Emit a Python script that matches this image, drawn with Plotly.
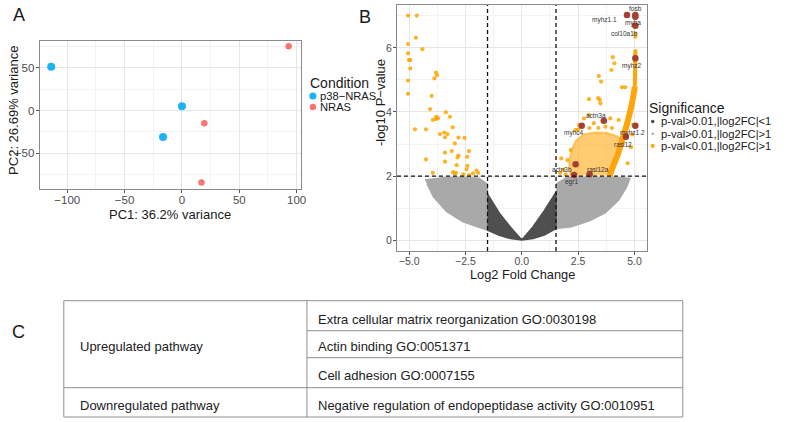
import plotly.graph_objects as go

W, H = 789, 422
def px(x): return x / W
def py(y): return 1 - y / H

FONT = "Liberation Sans, Arial, Helvetica, sans-serif"

# ---------------- Panel A : PCA ----------------
cond_names = ["p38\u2212NRAS", "NRAS"]
pc1_p38 = [-114, 0, -16.5]
pc2_p38 = [51, 5, -31]
pc1_nras = [19.5, 17, 93]
pc2_nras = [-15, -84, 75]
pca_xlabel = "PC1: 36.2% variance"
pca_ylabel = "PC2: 26.69% variance"

# ---------------- Panel B : volcano ----------------
fc_cut = 1.52
p_cut = 2
# dense cloud envelopes (log2FC, -log10 p)
dark_x = [-1.53, -1.0, -0.5, 0.0, 0.5, 1.0, 1.52, 1.52, 1.0, 0.5, 0.05, -0.05, -0.5, -1.0, -1.53]
dark_y = [0.31, 0.15, 0.05, 0.0, 0.05, 0.16, 0.36, 1.5, 0.92, 0.42, 0.04, 0.04, 0.4, 0.85, 1.45]
lwing_x = [-4.3, -3.5, -2.5, -1.9, -1.53, -1.53, -2.0, -2.6, -3.33, -3.92, -4.21]
lwing_y = [1.88, 1.95, 1.96, 1.93, 1.75, 0.31, 0.42, 0.57, 0.89, 1.35, 1.77]
rwing_x = [1.52, 2.0, 3.0, 4.0, 4.5, 4.8, 4.65, 4.3, 3.7, 3.0, 2.2, 1.52]
rwing_y = [1.75, 1.96, 1.96, 1.96, 1.95, 1.93, 1.65, 1.25, 0.85, 0.6, 0.42, 0.36]
up_dense_x = [2.15, 2.1, 2.2, 2.4, 2.75, 3.2, 3.75, 4.2, 4.5, 4.4, 4.15, 3.98, 3.85]
up_dense_y = [2.02, 2.4, 2.8, 3.1, 3.3, 3.36, 3.35, 3.25, 3.1, 2.9, 2.5, 2.25, 2.02]
band_x = [3.9, 4.05, 4.25, 4.47, 4.7, 4.9, 5.02]
band_y = [2.0, 2.3, 2.65, 3.15, 3.7, 4.3, 4.8]
band2_x = [5.02, 5.04, 5.04]
band2_y = [4.8, 5.3, 5.95]

down_x = [-5.05, -4.66, -4.70, -4.41, -5.05, -5.05, -5.01, -4.95, -4.95, -3.81, -3.76, -3.88, -5.05, -5.05,
          -4.0, -4.07, -3.37, -3.80, -3.76, -3.72, -3.83, -3.95, -3.19, -4.74, -4.25, -3.07, -3.63, -3.44,
          -3.30, -3.41, -2.81, -2.54, -2.97, -2.34, -3.41, -3.11, -2.81, -2.85, -2.42, -4.25, -3.41, -2.89,
          -2.41, -2.45, -3.95, -3.05, -2.98, -2.92, -2.01, -2.16, -1.94, -2.60, -2.34]
down_y = [7.01, 7.01, 6.32, 5.96, 6.12, 5.83, 5.62, 5.62, 5.36, 5.23, 5.15, 5.05, 4.98, 4.57,
          4.5, 4.09, 3.99, 3.85, 3.82, 3.80, 3.78, 3.75, 3.85, 3.46, 3.46, 3.52, 3.31, 3.36,
          3.31, 3.21, 3.20, 3.19, 3.02, 2.78, 2.73, 2.78, 2.64, 2.58, 2.6, 2.52, 2.45, 2.34,
          2.32, 2.21, 2.10, 2.12, 2.08, 2.10, 2.17, 2.08, 2.10, 2.05, 2.03]
up_x = [2.03, 2.17, 1.85, 1.95, 1.7, 1.75, 2.54, 2.39, 2.76, 2.98, 3.2, 3.71, 3.93, 4.3, 2.98, 3.39, 3.49,
        3.46, 4.45, 4.59, 3.42, 3.52, 3.98, 4.04, 4.11, 5.04, 5.04, 4.7, 4.85, 4.9, 4.95, 2.5, 3.0, 3.4, 4.0]
up_y = [2.5, 2.81, 2.2, 2.05, 2.1, 2.55, 3.59, 3.44, 3.80, 3.91, 3.65, 3.54, 3.80, 3.75, 4.40, 4.43, 4.27,
        4.38, 4.77, 4.77, 5.12, 4.95, 5.31, 5.71, 5.52, 6.35, 6.45, 2.4, 2.9, 3.3, 3.6, 3.45, 3.5, 3.5, 3.5]

genes = ["fosb", "myha", "myhz1.1", "col10a1b", "myhz2", "actn3a", "myhc4", "myhz1.2", "rasl12",
         "actn3b", "rasl12a", "egr1"]
gene_fc = [5.04, 5.04, 4.67, 5.04, 5.04, 3.64, 2.66, 5.04, 4.62, 2.39, 3.01, 2.32]
gene_p = [7.03, 6.97, 7.03, 6.69, 5.68, 3.73, 3.57, 3.57, 3.23, 2.37, 2.06, 2.03]
# label offsets in pixels (style)
label_shift = [(0, 6), (-2, -6), (-22, -5), (-11, -8), (-3, -8), (-8, 5), (-8, -7), (-3, -7),
               (-3, -8), (-14, -5), (8, 5), (-3, -7)]
sig_labels = ["p-val>0.01,|log2FC|<1", "p-val>0.01,|log2FC|>1", "p-val<0.01,|log2FC|>1"]
volc_xlabel = "Log2 Fold Change"
volc_ylabel = "-log10 P\u2212value"

# ---------------- Panel C : table ----------------
groups = ["Upregulated pathway", "Downregulated pathway"]
go_terms = ["Extra cellular matrix reorganization GO:0030198",
            "Actin binding GO:0051371",
            "Cell adhesion GO:0007155",
            "Negative regulation of endopeptidase activity GO:0010951"]

BLUE = "#1cb2f5"
RED = "#f8766d"
ORANGE = "rgba(255,165,0,0.85)"
ORANGE_FILL = "rgba(255,172,30,0.62)"
LGRAY = "#a9a9a9"
DGRAY = "#4f4f4f"
HIGHLIGHT = "#a3402e"

fig = go.Figure()

# Panel A traces
fig.add_trace(go.Scatter(x=pc1_p38, y=pc2_p38, mode="markers", xaxis="x", yaxis="y",
                         marker=dict(color=BLUE, size=8), showlegend=False))
fig.add_trace(go.Scatter(x=pc1_nras, y=pc2_nras, mode="markers", xaxis="x", yaxis="y",
                         marker=dict(color=RED, size=6.5), showlegend=False))

# Panel B traces
for xs, ys, col in [(lwing_x, lwing_y, LGRAY), (rwing_x, rwing_y, LGRAY), (dark_x, dark_y, DGRAY)]:
    fig.add_trace(go.Scatter(x=xs, y=ys, mode="lines", fill="toself", fillcolor=col,
                             line=dict(color=col, width=1.5), xaxis="x2", yaxis="y2",
                             showlegend=False, hoverinfo="skip"))
fig.add_trace(go.Scatter(x=up_dense_x, y=up_dense_y, mode="lines", fill="toself", fillcolor=ORANGE_FILL,
                         line=dict(color=ORANGE_FILL, width=2), xaxis="x2", yaxis="y2",
                         showlegend=False, hoverinfo="skip"))
fig.add_trace(go.Scatter(x=down_x, y=down_y, mode="markers", xaxis="x2", yaxis="y2",
                         marker=dict(color=ORANGE, size=4.2), showlegend=False))
fig.add_trace(go.Scatter(x=up_x, y=up_y, mode="markers", xaxis="x2", yaxis="y2",
                         marker=dict(color=ORANGE, size=4.2), showlegend=False))
fig.add_trace(go.Scatter(x=band_x, y=band_y, mode="lines", xaxis="x2", yaxis="y2",
                         line=dict(color="rgba(255,160,0,0.95)", width=6, shape="spline"),
                         showlegend=False, hoverinfo="skip"))
fig.add_trace(go.Scatter(x=band2_x, y=band2_y, mode="lines", xaxis="x2", yaxis="y2",
                         line=dict(color="rgba(255,160,0,0.95)", width=4),
                         showlegend=False, hoverinfo="skip"))
fig.add_trace(go.Scatter(x=gene_fc, y=gene_p, mode="markers", xaxis="x2", yaxis="y2",
                         marker=dict(color=HIGHLIGHT, size=6.5), showlegend=False))

axis_common = dict(showgrid=True, gridcolor="#e6e6e6", gridwidth=1, zeroline=False,
                   showline=True, mirror=True, linecolor="#8a8a8a", linewidth=1,
                   ticks="outside", ticklen=3, tickcolor="#555555",
                   tickfont=dict(family=FONT, size=11.5, color="#4d4d4d"))

fig.update_layout(
    width=W, height=H, autosize=False,
    margin=dict(l=0, r=0, t=0, b=0),
    paper_bgcolor="white", plot_bgcolor="white",
    font=dict(family=FONT),
    showlegend=False,
    xaxis=dict(domain=[px(40), px(303)], range=[-124, 103.5], tick0=0, dtick=50, anchor="y",
               ticklabelstandoff=-3,
               minor=dict(dtick=25, showgrid=True, gridcolor="#f3f3f3", gridwidth=0.7), **axis_common),
    yaxis=dict(domain=[py(189), py(41)], range=[-91.5, 81], tick0=0, dtick=50, anchor="x",
               ticklabelstandoff=-1,
               minor=dict(dtick=25, showgrid=True, gridcolor="#f3f3f3", gridwidth=0.7), **axis_common),
    xaxis2=dict(domain=[px(400), px(652)], range=[-5.54, 5.56], tick0=0, dtick=2.5, tickformat=".1f",
                anchor="y2", ticklabelstandoff=-3,
                minor=dict(dtick=1.25, showgrid=True, gridcolor="#f3f3f3", gridwidth=0.7), **axis_common),
    yaxis2=dict(domain=[py(251), py(5)], range=[-0.34, 7.34], tick0=0, dtick=2, anchor="x2",
                ticklabelstandoff=-1,
                minor=dict(dtick=1, showgrid=True, gridcolor="#f3f3f3", gridwidth=0.7), **axis_common),
)
fig.layout.xaxis2.tickfont.size = 10.5
fig.layout.yaxis2.tickfont.size = 10.5

shapes = []
ann = []

# threshold lines
for xv in (-fc_cut, fc_cut):
    shapes.append(dict(type="line", xref="x2", yref="y2 domain", x0=xv, x1=xv, y0=0, y1=1,
                       line=dict(color="#111111", width=1.3, dash="4px,3px")))
shapes.append(dict(type="line", xref="x2 domain", yref="y2", x0=0, x1=1, y0=p_cut, y1=p_cut,
                   line=dict(color="#111111", width=1.3, dash="4px,3px")))

def text(x, y, s, size, anchor="center", color="#1a1a1a", angle=0):
    ann.append(dict(xref="paper", yref="paper", x=px(x), y=py(y), text=s, showarrow=False,
                    xanchor=anchor, yanchor="middle", textangle=angle,
                    font=dict(family=FONT, size=size, color=color)))

# panel letters
text(19, 15, "A", 18)
text(368, 17, "B", 18)
text(19, 332, "C", 18)

# axis titles
text(171, 214, pca_xlabel, 13)
text(13, 110, pca_ylabel, 13, angle=-90)
text(527, 274, volc_xlabel, 12.8)
text(383, 103, volc_ylabel, 13, angle=-90)

# gene labels
for g, xv, yv, (dx, dy) in zip(genes, gene_fc, gene_p, label_shift):
    ann.append(dict(xref="x2", yref="y2", x=xv, y=yv, text=g, showarrow=False,
                    xshift=dx, yshift=dy, font=dict(family=FONT, size=6.5, color="#333333")))

# Condition legend
text(310, 83, "Condition", 14, anchor="left")
leg_cols = [BLUE, RED]
leg_r = [3.6, 3.2]
for i, (name, col) in enumerate(zip(cond_names, leg_cols)):
    yy = 96 + i * 11
    shapes.append(dict(type="circle", xref="paper", yref="paper",
                       x0=px(315.3 - leg_r[i]), x1=px(315.3 + leg_r[i]),
                       y0=py(yy + leg_r[i]), y1=py(yy - leg_r[i]),
                       fillcolor=col, line=dict(width=0)))
    text(320, yy, name, 11.2, anchor="left")

# Significance legend
text(652, 108, "Significance", 14, anchor="left")
sig_cols = [DGRAY, LGRAY, "rgb(255,170,20)"]
sig_r = [1.8, 1.3, 2.1]
for i, (name, col) in enumerate(zip(sig_labels, sig_cols)):
    yy = 121.5 + i * 12.2
    shapes.append(dict(type="circle", xref="paper", yref="paper",
                       x0=px(657.7 - sig_r[i]), x1=px(657.7 + sig_r[i]),
                       y0=py(yy + sig_r[i]), y1=py(yy - sig_r[i]),
                       fillcolor=col, line=dict(width=0)))
    text(664, yy, name, 11.2, anchor="left")

# Table (panel C)
T_L, T_M, T_R = 64.3, 309.3, 688
rows = [300.7, 330.7, 357.7, 387.7, 417]
tline = dict(color="#8f8f8f", width=1)
shapes.append(dict(type="rect", xref="paper", yref="paper", x0=px(T_L), x1=px(T_R),
                   y0=py(rows[-1]), y1=py(rows[0]), line=tline))
shapes.append(dict(type="line", xref="paper", yref="paper", x0=px(T_M), x1=px(T_M),
                   y0=py(rows[-1]), y1=py(rows[0]), line=tline))
for r in rows[1:3]:
    shapes.append(dict(type="line", xref="paper", yref="paper", x0=px(T_M), x1=px(T_R),
                       y0=py(r), y1=py(r), line=tline))
shapes.append(dict(type="line", xref="paper", yref="paper", x0=px(T_L), x1=px(T_R),
                   y0=py(rows[3]), y1=py(rows[3]), line=tline))

text(79, 346.7, groups[0], 13, anchor="left", color="#222222")
text(79, 405, groups[1], 13, anchor="left", color="#222222")
term_y = [319.3, 346.7, 375.7, 405]
for t, yy in zip(go_terms, term_y):
    text(318.3, yy, t, 13, anchor="left", color="#222222")

fig.update_layout(shapes=shapes, annotations=ann)
# remove the default 8px page margin so the figure sits at the window's top-left corner
fig.write_html("out.html", config={"displayModeBar": False},
               post_script="document.body.style.margin='0';document.body.style.overflow='hidden';")
